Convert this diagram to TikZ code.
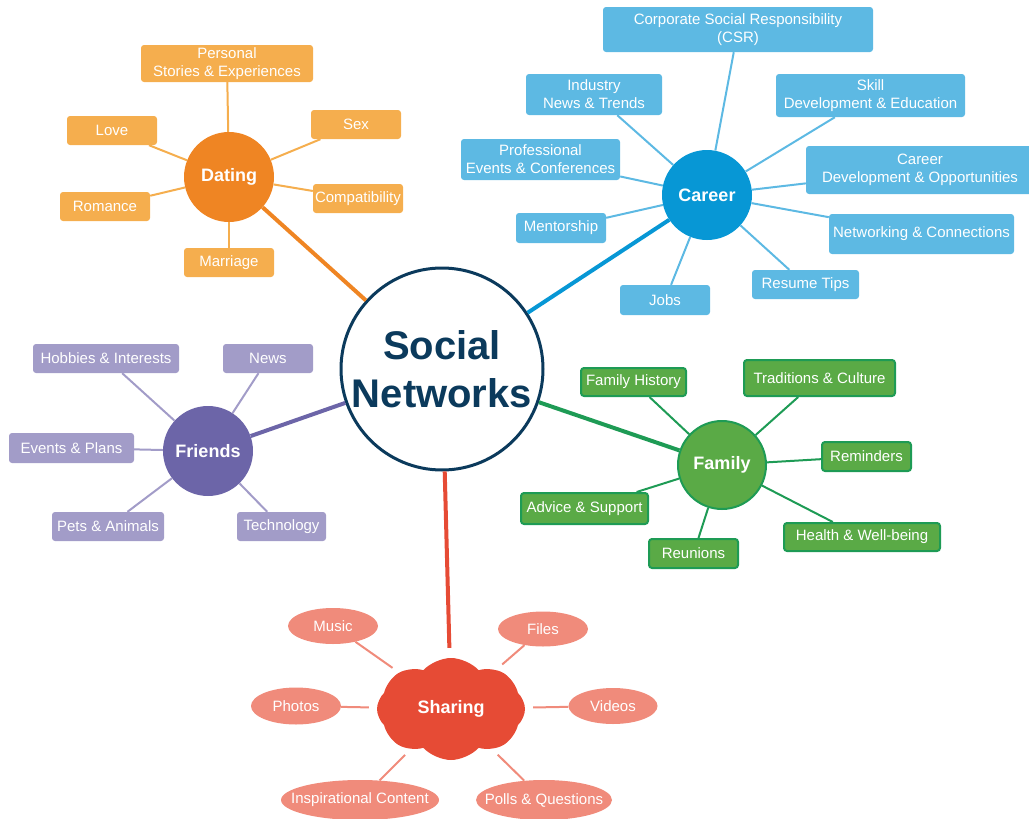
\documentclass[tikz,border=0pt]{standalone}
\usepackage{fontspec}
\setmainfont{Liberation Sans}
\usepackage{tikz}
\usetikzlibrary{shapes.symbols,shapes.geometric}

\definecolor{navy}{HTML}{0B3A5C}
\definecolor{dorange}{HTML}{EF8523}
\definecolor{lorange}{HTML}{F5AE4E}
\definecolor{dblue}{HTML}{0797D5}
\definecolor{lblue}{HTML}{5DB9E3}
\definecolor{dpurple}{HTML}{6C65A8}
\definecolor{lpurple}{HTML}{A29CC8}
\definecolor{fgreen}{HTML}{5AAA46}
\definecolor{bgreen}{HTML}{1E9B55}
\definecolor{dred}{HTML}{E64B35}
\definecolor{salmon}{HTML}{F08B7B}

\begin{document}
\begin{tikzpicture}[x=1pt,y=-1pt,
        hub/.style={circle, minimum size=90pt, inner sep=0pt, text=white, font=\fontsize{18}{20}\selectfont\bfseries},
        leaf/.style={rectangle, rounded corners=3pt, text=white, inner sep=1pt, align=center, font=\fontsize{15}{18}\selectfont},
        bubble/.style={ellipse, fill=salmon, text=white, inner xsep=-14pt, inner ysep=0pt, font=\fontsize{15}{18}\selectfont},
        boxsize/.style 2 args={minimum width=#1pt, minimum height=#2pt},
        twig/.style={line width=2pt},
        branch/.style={line width=4pt}]

                \useasboundingbox (0,0) rectangle (1029,819);

                \node[circle, draw=navy, line width=3pt, fill=white, minimum size=202pt, inner sep=0pt, align=center, text=navy, font=\fontsize{40}{48}\selectfont\bfseries] (social) at (442,369) {Social\\Networks};

                \node[hub, fill=dorange] (dating) at (229,177) {Dating};
                \node[leaf, fill=lorange, boxsize={172}{37}] (stories) at (227,63.5) {Personal\\Stories \& Experiences};
                \node[leaf, fill=lorange, boxsize={90}{29}] (love) at (112,130.5) {Love};
                \node[leaf, fill=lorange, boxsize={90}{29}] (sex) at (356,124.5) {Sex};
                \node[leaf, fill=lorange, boxsize={90}{29}] (romance) at (105,206.5) {Romance};
                \node[leaf, fill=lorange, boxsize={90}{29}] (compat) at (358,198.5) {Compatibility};
                \node[leaf, fill=lorange, boxsize={90}{29}] (marriage) at (229,262.5) {Marriage};

                \draw[twig, lorange] (dating) -- (stories);
                \draw[twig, lorange] (dating) -- (love);
                \draw[twig, lorange] (dating) -- (sex);
                \draw[twig, lorange] (dating) -- (romance);
                \draw[twig, lorange] (dating) -- (compat);
                \draw[twig, lorange] (dating) -- (marriage);
                \draw[branch, dorange] (social) -- (dating);

                \node[hub, fill=dblue] (career) at (707,195) {Career};
                \node[leaf, fill=lblue, boxsize={270}{45}] (csr) at (738,29.5) {Corporate Social Responsibility\\(CSR)};
                \node[leaf, fill=lblue, boxsize={136}{41}] (industry) at (594,94.5) {Industry\\News \& Trends};
                \node[leaf, fill=lblue, boxsize={189}{43}] (skill) at (870.5,95.5) {Skill\\Development \& Education};
                \node[leaf, fill=lblue, boxsize={159}{41}] (events) at (540.5,159.5) {Professional\\Events \& Conferences};
                \node[leaf, fill=lblue, boxsize={228}{48}] (develop) at (920,170) {Career\\Development \& Opportunities};
                \node[leaf, fill=lblue, boxsize={90}{30}] (mentor) at (561,228) {Mentorship};
                \node[leaf, fill=lblue, boxsize={185}{40}] (netw) at (921.5,234) {Networking \& Connections};
                \node[leaf, fill=lblue, boxsize={90}{30}] (jobs) at (665,300) {Jobs};
                \node[leaf, fill=lblue, boxsize={107}{29}] (resume) at (805.5,284.5) {Resume Tips};

                \draw[twig, lblue] (career) -- (csr);
                \draw[twig, lblue] (career) -- (industry);
                \draw[twig, lblue] (career) -- (skill);
                \draw[twig, lblue] (career) -- (events);
                \draw[twig, lblue] (career) -- (develop);
                \draw[twig, lblue] (career) -- (mentor);
                \draw[twig, lblue] (career) -- (netw);
                \draw[twig, lblue] (career) -- (jobs);
                \draw[twig, lblue] (career) -- (resume);
                \draw[branch, dblue] (social) -- (career);

                \node[hub, fill=dpurple] (friends) at (208,451) {Friends};
                \node[leaf, fill=lpurple, boxsize={146}{29}] (hobbies) at (106,358.5) {Hobbies \& Interests};
                \node[leaf, fill=lpurple, boxsize={90}{29}] (news) at (268,358.5) {News};
                \node[leaf, fill=lpurple, boxsize={125}{30}] (plans) at (71.5,448) {Events \& Plans};
                \node[leaf, fill=lpurple, boxsize={112}{29}] (pets) at (108,526.5) {Pets \& Animals};
                \node[leaf, fill=lpurple, boxsize={89}{29}] (tech) at (281.5,526.5) {Technology};

                \draw[twig, lpurple] (friends) -- (hobbies);
                \draw[twig, lpurple] (friends) -- (news);
                \draw[twig, lpurple] (friends) -- (plans);
                \draw[twig, lpurple] (friends) -- (pets);
                \draw[twig, lpurple] (friends) -- (tech);
                \draw[branch, dpurple] (social) -- (friends);

                \node[hub, fill=fgreen, draw=bgreen, line width=2pt, minimum size=88pt] (family) at (722,465) {Family};
                \node[leaf, fill=fgreen, draw=bgreen, line width=2pt, boxsize={105}{28}] (history) at (633.5,382) {Family History};
                \node[leaf, fill=fgreen, draw=bgreen, line width=2pt, boxsize={151}{36}] (culture) at (819.5,378) {Traditions \& Culture};
                \node[leaf, fill=fgreen, draw=bgreen, line width=2pt, boxsize={89}{29}] (remind) at (866.5,456.5) {Reminders};
                \node[leaf, fill=fgreen, draw=bgreen, line width=2pt, boxsize={127}{31}] (advice) at (584.5,508.5) {Advice \& Support};
                \node[leaf, fill=fgreen, draw=bgreen, line width=2pt, boxsize={89}{29}] (reunion) at (693.5,553.5) {Reunions};
                \node[leaf, fill=fgreen, draw=bgreen, line width=2pt, boxsize={156}{28}] (health) at (862,537) {Health \& Well-being};

                \draw[twig, bgreen] (family) -- (history);
                \draw[twig, bgreen] (family) -- (culture);
                \draw[twig, bgreen] (family) -- (remind);
                \draw[twig, bgreen] (family) -- (advice);
                \draw[twig, bgreen] (family) -- (reunion);
                \draw[twig, bgreen] (family) -- (health);
                \draw[branch, bgreen] (social) -- (family);

                \node[cloud, cloud puffs=8, cloud puff arc=95, aspect=1.45, fill=dred, minimum width=148pt, minimum height=102pt, inner sep=0pt, text=white, font=\fontsize{18}{20}\selectfont\bfseries] (sharing) at (451,709) {Sharing};
                \node[bubble, boxsize={90}{36}] (music) at (333,626) {Music};
                \node[bubble, boxsize={90}{35}] (files) at (543,629) {Files};
                \node[bubble, boxsize={90}{37}] (photos) at (296,706) {Photos};
                \node[bubble, boxsize={89}{36}] (videos) at (613,706) {Videos};
                \node[bubble, boxsize={158}{40}] (inspire) at (360,800) {Inspirational Content};
                \node[bubble, boxsize={136}{40}] (polls) at (544,800) {Polls \& Questions};

                \draw[twig, salmon, shorten <=8pt] (sharing) -- (music);
                \draw[twig, salmon, shorten <=8pt] (sharing) -- (files);
                \draw[twig, salmon, shorten <=8pt] (sharing) -- (photos);
                \draw[twig, salmon, shorten <=8pt] (sharing) -- (videos);
                \draw[twig, salmon, shorten <=8pt] (sharing) -- (inspire);
                \draw[twig, salmon, shorten <=8pt] (sharing) -- (polls);
                \draw[branch, dred, shorten >=10pt] (social) -- (sharing);

            \end{tikzpicture}
\end{document}
